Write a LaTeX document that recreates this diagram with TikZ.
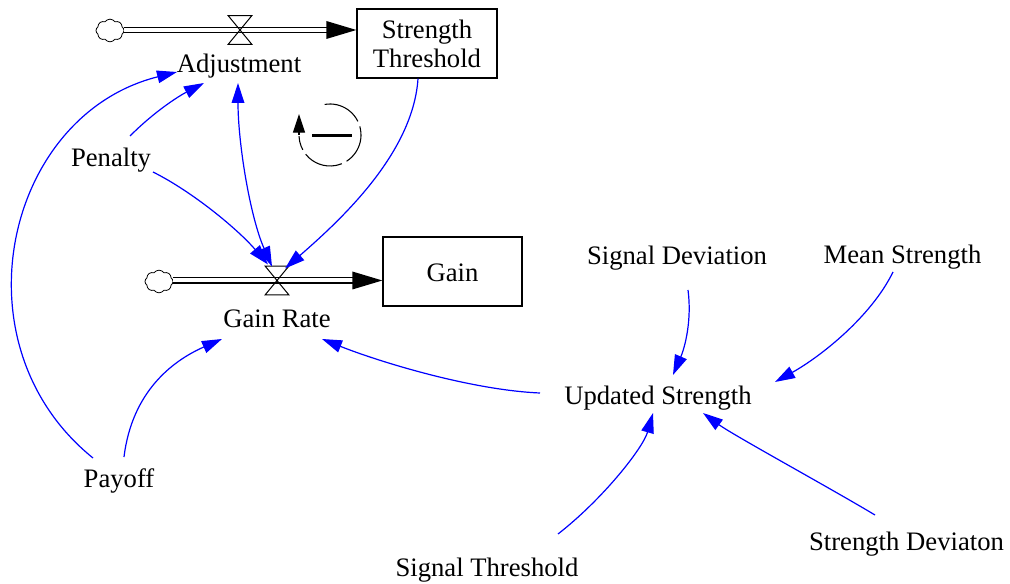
\documentclass[tikz,border=0pt]{standalone}
\usepackage{fontspec}
\setmainfont{Liberation Serif}
\usetikzlibrary{arrows.meta,calc,shapes.symbols}

\begin{document}
\begin{tikzpicture}[x=0.75pt,y=-0.75pt,
  every node/.style={font=\fontsize{20}{21.75}\selectfont},
  var/.style={inner sep=0pt, text height=14pt, text depth=4.5pt},
  stock/.style={draw, line width=1pt, inner sep=0pt, minimum width=105pt,
    minimum height=51.75pt, align=center},
  valve/.style={inner sep=0pt, minimum width=17.25pt, minimum height=21pt},
  source/.style={cloud, cloud puffs=8, cloud puff arc=110, aspect=1.25, draw,
    line width=0.6pt, inner sep=0pt, minimum width=21pt, minimum height=17pt},
  pipe/.style={double, double distance=3pt, line width=0.9pt},
  link/.style={blue, line width=0.9pt, >={Triangle[length=15pt,width=9.5pt]}, ->},
  loopline/.style={line width=0.8pt, dash pattern=on 30pt off 4pt}
]
\useasboundingbox (0,0) rectangle (1010,584);

% stocks
\node[stock] (stb) at (427,43.5) {Strength\\Threshold};
\node[stock, minimum width=104.25pt, text height=15.3pt, text depth=0pt] (gain) at (452.5,271.5) {Gain};

% valves and clouds
\node[valve] (v1) at (240,30) {};
\node[valve] (v2) at (277,280.5) {};
\node[source] (c1) at (110,30.5) {};
\node[source] (c2) at (159,281.5) {};

% flow pipes
\draw[pipe] (c1.east |- v1) -- ($(stb.west |- v1)+(-28,0)$);
\fill (stb.west |- v1) -- ++(-30,-9) -- ++(0,18) -- cycle;
\draw[pipe] (c2.east |- v2) -- ($(gain.west |- v2)+(-28,0)$);
\fill (gain.west |- v2) -- ++(-30,-9) -- ++(0,18) -- cycle;

% valve symbols
\foreach \v in {v1,v2}
  \draw[line width=0.75pt] (\v.north west) -- (\v.north east) -- (\v.south west) -- (\v.south east) -- cycle;

% variables
\node[var] (adj) at (239,66.5) {Adjustment};
\node[var] (pen) at (111,159.7) {Penalty};
\node[var] (gr)  at (277,320.7) {Gain Rate};
\node[var] (pay) at (119,480.7) {Payoff};
\node[var] (sd)  at (677,257.7) {Signal Deviation};
\node[var] (ms)  at (902.5,257) {Mean Strength};
\node[var] (us)  at (658,397.7) {Updated Strength};
\node[var] (st)  at (487,569.7) {Signal Threshold};
\node[var] (sdv) at (906.5,544) {Strength Deviaton};

% causal links
\draw[link] ($(pay)+(-26,-22.7)$) .. controls +(-140,-113) and +(-172,43) .. ($(adj)+(-62,5.5)$);
\draw[link] ($(pen)+(19,-23.7)$) .. controls +(25,-25) and +(-25,13) .. ($(adj)+(-35,16.5)$);
\draw[link,<->] ($(adj)+(-1,16.5)$) .. controls +(0,60) and +(-22,-50) .. ($(v2)+(-5,-14)$);
\draw[link] ($(pen)+(42,12.3)$) .. controls +(40,20) and +(-30,-35) .. ($(v2)+(-9,-16)$);
\draw[link] ($(stb.south)+(-9,0)$) .. controls +(-5,75) and +(55,-48) .. ($(v2)+(8,-12)$);
\draw[link] ($(pay)+(5,-23.7)$) .. controls +(8,-65) and +(-50,22) .. ($(gr)+(-55,18.3)$);
\draw[link] ($(us)+(-118,-4.7)$) .. controls +(-70,-3) and +(55,22) .. ($(gr)+(45,18.3)$);
\draw[link] ($(sd)+(11,32.3)$) .. controls +(4,30) and +(12,-28) .. ($(us)+(15,-22.7)$);
\draw[link] ($(ms)+(-9.5,15)$) .. controls +(-22,45) and +(45,-25) .. ($(us)+(117,-15.7)$);
\draw[link] ($(st)+(71,-35.7)$) .. controls +(45,-35) and +(-10,35) .. ($(us)+(-5,15.3)$);
\draw[link] ($(sdv)+(-31.5,-29)$) .. controls +(-45,-27) and +(30,22) .. ($(us)+(45,15.3)$);

% balancing loop marker
\coordinate (lp) at (330,135);
\draw[loopline] ([shift={(100:23.25pt)}]lp) arc[start angle=100, end angle=-178, radius=23.25pt];
\draw[line width=0.8pt, -{Triangle[length=14pt,width=9pt]}] ([shift={(180:23.25pt)}]lp) -- ++(0,-21);
\draw[line width=2.25pt] ($(lp)+(-18,1)$) -- ($(lp)+(22,1)$);
\end{tikzpicture}
\end{document}
